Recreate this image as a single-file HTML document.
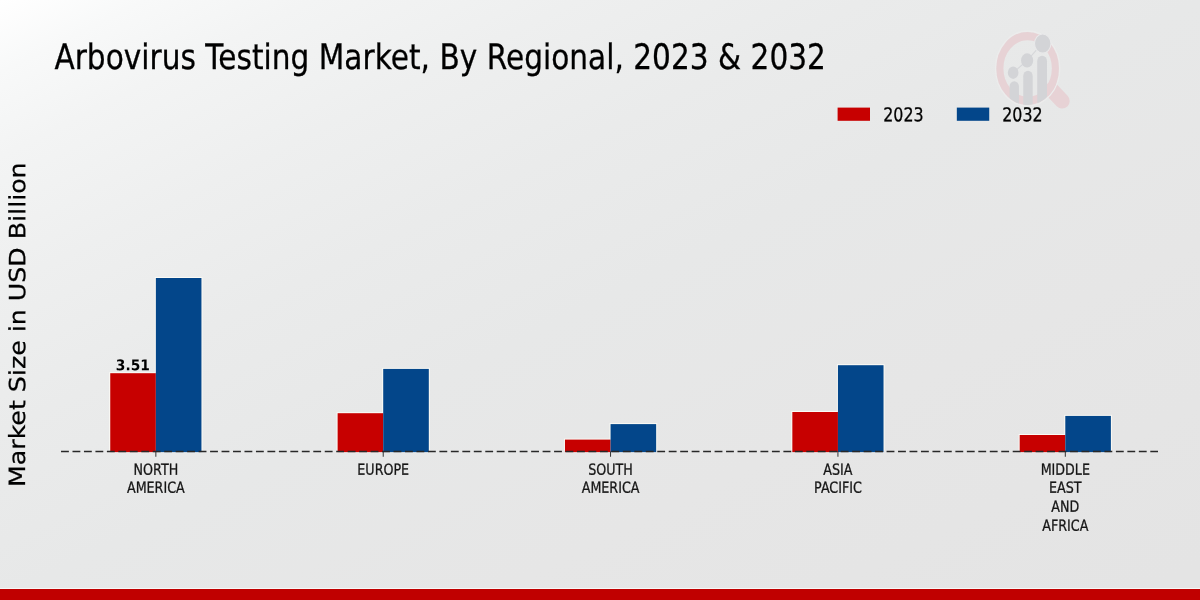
<!DOCTYPE html>
<html lang="en"><head><meta charset="utf-8"><title>Arbovirus Testing Market, By Regional, 2023 &amp; 2032</title>
<style>
html,body{margin:0;padding:0;background:#e8e8e8;}
body{width:1200px;height:600px;overflow:hidden;position:relative;font-family:"DejaVu Sans","Liberation Sans",sans-serif;}
#bg{position:absolute;left:0;top:0;width:1200px;height:600px;
 background:linear-gradient(to bottom right,#ffffff 0%,#f8f9f9 6%,#f3f4f4 13%,#eeefef 24%,#eaebeb 36%,#e7e8e8 50%,#e6e6e6 70%,#e4e4e4 97%);}
svg{position:absolute;left:0;top:0;display:block;will-change:transform;}
text{font-family:"DejaVu Sans","Liberation Sans",sans-serif;-webkit-font-smoothing:antialiased;text-rendering:geometricPrecision;}
</style></head><body>
<div id="bg"></div>
<svg width="1200" height="600" viewBox="0 0 1400 600" preserveAspectRatio="none">
<g id="logo">
<g transform="scale(1.166667,1)"><line x1="1051.5" y1="89.8" x2="1062.2" y2="101.0" stroke="#e7d2d5" stroke-width="15" stroke-linecap="round"/></g>
<circle cx="1198.9" cy="68.5" r="37.4" fill="none" stroke="#ececec" stroke-width="1.5"/>
<circle cx="1198.9" cy="68.5" r="32.4" fill="none" stroke="#e7d2d5" stroke-width="8.3"/>
<clipPath id="lc"><circle cx="1198.9" cy="68.5" r="36.5"/></clipPath>
<g clip-path="url(#lc)" fill="#d3d4d7">
<rect x="1177.8" y="81.2" width="11" height="40" rx="5.5"/>
<rect x="1193.8" y="70.7" width="11" height="50" rx="5.5"/>
<rect x="1210.1" y="55.7" width="11.4" height="60" rx="5.6"/>
</g>
<g stroke="#d6d7da" stroke-width="1.1"><line x1="1182" y1="72.7" x2="1198.3" y2="60.5"/><line x1="1198.3" y1="60.5" x2="1216.5" y2="43"/></g>
<circle cx="1182" cy="72.7" r="6.2" fill="#d3d4d7"/>
<circle cx="1198.3" cy="60.4" r="7.1" fill="#d3d4d7"/>
<circle cx="1216.5" cy="43.6" r="9.6" fill="#d3d4d7" stroke="#e9e9ea" stroke-width="1.2"/>
</g>
<text transform="translate(63.47,68.75) scale(0.9871,1)" font-size="35.0" fill="#000" stroke="#000" stroke-width="0.3">Arbovirus Testing Market, By Regional, 2023 &amp; 2032</text>
<text transform="translate(29.40,324.70) rotate(-89.95) scale(0.9680,1)" text-anchor="middle" font-size="26.1" fill="#000" stroke="#000" stroke-width="0.3">Market Size in USD Billion</text>
<rect x="977.2" y="107.6" width="37.8" height="13.2" fill="#c70000"/>
<text transform="translate(1030.40,121.20) rotate(0.05) scale(0.9750,1)" font-size="19.0" fill="#000" stroke="#000" stroke-width="0.3">2023</text>
<rect x="1116.3" y="107.6" width="37.8" height="13.2" fill="#03468a"/>
<text transform="translate(1169.23,121.20) rotate(0.05) scale(0.9750,1)" font-size="19.0" fill="#000" stroke="#000" stroke-width="0.3">2032</text>
<rect x="127.42" y="372.2" width="54.40" height="78.40" fill="#fbfaf5"/><rect x="180.63" y="277.0" width="55.60" height="173.60" fill="#fbfaf5"/>
<rect x="392.68" y="412.2" width="54.40" height="38.40" fill="#fbfaf5"/><rect x="445.88" y="367.9" width="55.60" height="82.70" fill="#fbfaf5"/>
<rect x="657.93" y="438.6" width="54.40" height="12.00" fill="#fbfaf5"/><rect x="711.13" y="423.1" width="55.60" height="27.50" fill="#fbfaf5"/>
<rect x="923.19" y="411.0" width="54.40" height="39.60" fill="#fbfaf5"/><rect x="976.39" y="364.2" width="55.60" height="86.40" fill="#fbfaf5"/>
<rect x="1188.44" y="434.0" width="54.40" height="16.60" fill="#fbfaf5"/><rect x="1241.64" y="414.9" width="55.60" height="35.70" fill="#fbfaf5"/>
<rect x="128.62" y="373.2" width="53.20" height="78.90" fill="#c70000"/><rect x="181.83" y="278.0" width="53.20" height="174.10" fill="#03468a"/>
<rect x="393.88" y="413.2" width="53.20" height="38.90" fill="#c70000"/><rect x="447.08" y="368.9" width="53.20" height="83.20" fill="#03468a"/>
<rect x="659.13" y="439.6" width="53.20" height="12.50" fill="#c70000"/><rect x="712.33" y="424.1" width="53.20" height="28.00" fill="#03468a"/>
<rect x="924.39" y="412.0" width="53.20" height="40.10" fill="#c70000"/><rect x="977.59" y="365.2" width="53.20" height="86.90" fill="#03468a"/>
<rect x="1189.64" y="435.0" width="53.20" height="17.10" fill="#c70000"/><rect x="1242.84" y="415.9" width="53.20" height="36.20" fill="#03468a"/>
<line x1="71.2" y1="451.6" x2="1351.0" y2="451.6" stroke="#282828" stroke-width="1.5" stroke-dasharray="9.15 4.227"/>
<line x1="181.83" y1="451.6" x2="181.83" y2="456.8" stroke="#2a2a2a" stroke-width="1.1"/>
<text transform="translate(181.83,474.75) rotate(0.05) scale(0.9670,1)" text-anchor="middle" font-size="15.3" fill="#161616" stroke="#161616" stroke-width="0.3">NORTH</text>
<text transform="translate(181.83,492.80) rotate(0.05) scale(0.9670,1)" text-anchor="middle" font-size="15.3" fill="#161616" stroke="#161616" stroke-width="0.3">AMERICA</text>
<line x1="447.08" y1="451.6" x2="447.08" y2="456.8" stroke="#2a2a2a" stroke-width="1.1"/>
<text transform="translate(447.08,474.75) rotate(0.05) scale(0.9670,1)" text-anchor="middle" font-size="15.3" fill="#161616" stroke="#161616" stroke-width="0.3">EUROPE</text>
<line x1="712.33" y1="451.6" x2="712.33" y2="456.8" stroke="#2a2a2a" stroke-width="1.1"/>
<text transform="translate(712.33,474.75) rotate(0.05) scale(0.9670,1)" text-anchor="middle" font-size="15.3" fill="#161616" stroke="#161616" stroke-width="0.3">SOUTH</text>
<text transform="translate(712.33,492.80) rotate(0.05) scale(0.9670,1)" text-anchor="middle" font-size="15.3" fill="#161616" stroke="#161616" stroke-width="0.3">AMERICA</text>
<line x1="977.59" y1="451.6" x2="977.59" y2="456.8" stroke="#2a2a2a" stroke-width="1.1"/>
<text transform="translate(977.59,474.75) rotate(0.05) scale(0.9670,1)" text-anchor="middle" font-size="15.3" fill="#161616" stroke="#161616" stroke-width="0.3">ASIA</text>
<text transform="translate(977.59,492.80) rotate(0.05) scale(0.9670,1)" text-anchor="middle" font-size="15.3" fill="#161616" stroke="#161616" stroke-width="0.3">PACIFIC</text>
<line x1="1242.84" y1="451.6" x2="1242.84" y2="456.8" stroke="#2a2a2a" stroke-width="1.1"/>
<text transform="translate(1242.84,474.75) rotate(0.05) scale(0.9670,1)" text-anchor="middle" font-size="15.3" fill="#161616" stroke="#161616" stroke-width="0.3">MIDDLE</text>
<text transform="translate(1242.84,492.80) rotate(0.05) scale(0.9670,1)" text-anchor="middle" font-size="15.3" fill="#161616" stroke="#161616" stroke-width="0.3">EAST</text>
<text transform="translate(1242.84,511.70) rotate(0.05) scale(0.9670,1)" text-anchor="middle" font-size="15.3" fill="#161616" stroke="#161616" stroke-width="0.3">AND</text>
<text transform="translate(1242.84,530.80) rotate(0.05) scale(0.9670,1)" text-anchor="middle" font-size="15.3" fill="#161616" stroke="#161616" stroke-width="0.3">AFRICA</text>
<text transform="translate(154.99,370.35) rotate(0.05) scale(1.0880,1)" text-anchor="middle" font-size="14.8" fill="#000" stroke="#000" stroke-width="0" font-weight="bold">3.51</text>
</svg>
<div style="position:absolute;left:0;top:588px;width:1200px;height:1px;background:#f7f7f7"></div>
<div style="position:absolute;left:0;top:589px;width:1200px;height:11px;background:#c00000"></div>
</body></html>
